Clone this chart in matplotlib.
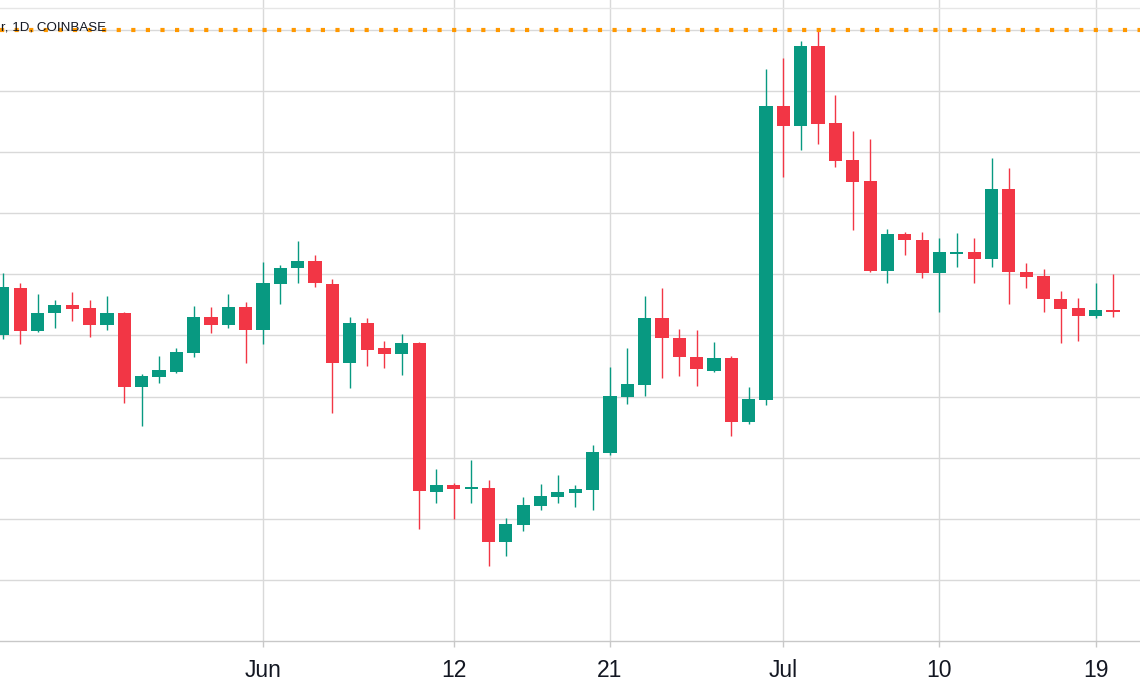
import matplotlib
matplotlib.use("Agg")
import matplotlib.pyplot as plt
import numpy as np
import pandas as pd

# ---- data (price in grid units; axis shows no price labels) ----
dates = pd.date_range("2023-05-17", periods=65, freq="D")

opens = [5.008, 5.777, 5.074, 5.368, 5.499, 5.450, 5.172, 5.368, 4.157, 4.321,
         4.403, 4.714, 5.303, 5.172, 5.466, 5.090, 5.843, 6.105, 6.219, 5.843,
         4.550, 5.205, 4.795, 4.697, 4.877, 2.439, 2.553, 2.488, 2.504, 1.620,
         1.899, 2.209, 2.357, 2.422, 2.471, 3.077, 3.993, 4.190, 5.286, 4.959,
         4.648, 4.419, 4.632, 3.584, 3.944, 8.756, 8.429, 9.738, 8.478, 7.872,
         7.529, 6.056, 6.661, 6.563, 6.023, 6.342, 6.367, 6.252, 7.398, 6.039,
         5.974, 5.597, 5.450, 5.319, 5.401]
highs = [6.023, 5.859, 5.679, 5.581, 5.712, 5.581, 5.646, 5.385, 4.370, 4.664,
         4.795, 5.483, 5.466, 5.679, 5.548, 6.203, 6.154, 6.547, 6.317, 5.925,
         5.303, 5.286, 4.910, 5.025, 4.894, 2.815, 2.586, 2.962, 2.635, 2.013,
         2.357, 2.570, 2.717, 2.553, 3.208, 4.484, 4.795, 5.646, 5.777, 5.106,
         5.090, 4.894, 4.660, 4.157, 9.362, 9.542, 9.820, 10.000, 8.936, 8.347,
         8.216, 6.743, 6.694, 6.694, 6.596, 6.678, 6.596, 7.905, 7.741, 6.187,
         6.088, 5.728, 5.614, 5.859, 6.007]
lows = [4.943, 4.861, 5.057, 5.123, 5.237, 4.975, 5.090, 3.895, 3.519, 4.223,
        4.386, 4.648, 5.041, 5.123, 4.550, 4.861, 5.516, 5.859, 5.794, 3.732,
        4.141, 4.501, 4.468, 4.354, 1.833, 2.259, 1.997, 2.259, 1.227, 1.391,
        1.800, 2.144, 2.259, 2.193, 2.144, 3.044, 3.879, 4.010, 4.304, 4.337,
        4.173, 4.403, 3.355, 3.552, 3.862, 7.594, 8.036, 8.134, 7.758, 6.727,
        6.039, 5.859, 6.317, 5.941, 5.385, 6.121, 5.859, 6.121, 5.516, 5.777,
        5.385, 4.877, 4.910, 5.286, 5.303]
closes = [5.794, 5.074, 5.368, 5.499, 5.434, 5.172, 5.368, 4.157, 4.337, 4.435,
          4.730, 5.303, 5.172, 5.466, 5.090, 5.859, 6.105, 6.219, 5.859, 4.550,
          5.205, 4.763, 4.697, 4.877, 2.455, 2.553, 2.488, 2.504, 1.620, 1.915,
          2.226, 2.373, 2.439, 2.488, 3.093, 4.010, 4.206, 5.286, 4.959, 4.648,
          4.452, 4.632, 3.584, 3.961, 8.756, 8.429, 9.738, 8.462, 7.856, 7.512,
          6.056, 6.661, 6.563, 6.023, 6.367, 6.350, 6.252, 7.398, 6.039, 5.957,
          5.597, 5.434, 5.319, 5.417, 5.385]

tick_dates = ["2023-06-01", "2023-06-12", "2023-06-21", "2023-07-01", "2023-07-10", "2023-07-19"]
tick_labels = ["Jun", "12", "21", "Jul", "10", "19"]
price_line = 10.0
title_text = "r, 1D, COINBASE"

# ---- style ----
UP = "#089981"
DOWN = "#F23645"
GRID = "#d9d9d9"

fig = plt.figure(figsize=(11.4, 6.94), dpi=100)
fig.patch.set_facecolor("white")
ax = fig.add_axes([0, 53 / 694, 1, 641 / 694])

x = np.arange(len(dates))
o = np.array(opens); h = np.array(highs); l = np.array(lows); c = np.array(closes)
up = c >= o
colors = np.where(up, UP, DOWN)

# wicks
ax.vlines(x, l, h, colors=colors, linewidth=1.0, zorder=3)
# bodies
body_h = np.maximum(np.abs(c - o), 0.025)
body_b = np.minimum(o, c)
ax.bar(x, body_h, bottom=body_b, width=0.76, color=colors, linewidth=0, zorder=4)

# grid
for gv in range(1, 11):
    ax.axhline(gv, color=GRID, linewidth=1.0, zorder=1)
day0 = dates[0]
tick_pos = [(pd.Timestamp(t) - day0).days for t in tick_dates]
for tp in tick_pos:
    ax.axvline(tp, color=GRID, linewidth=1.0, zorder=1)

# header separator
ax.axhline((641 - 8) / 61.1, color="#e6e6e6", linewidth=1.0, zorder=1)

# orange dotted price line
ax.axhline(price_line, color="#FF9800", linewidth=3.0, linestyle=(0, (1, 2.5)),
           dash_capstyle="butt", zorder=5)

ax.set_xlim(-0.164, 65.56)
ax.set_ylim(0, 641 / 61.1)

ax.set_xticks(tick_pos)
ax.set_xticklabels(tick_labels, fontsize=16.5, color="#131722", family="Liberation Sans")
ax.tick_params(axis="x", length=4, width=1, color="#c8c8c8", pad=9)
ax.set_yticks([])
for s in ["left", "right", "top"]:
    ax.spines[s].set_visible(False)
ax.spines["bottom"].set_color("#c8c8c8")
ax.spines["bottom"].set_linewidth(1.0)

# title (cropped chart header)
fig.text(1 / 1140, 1 - 27 / 694, title_text, ha="left", va="center",
         fontsize=9.6, color="#131722", family="Liberation Sans", zorder=6)

fig.savefig("out.png", dpi=100, facecolor="white")
